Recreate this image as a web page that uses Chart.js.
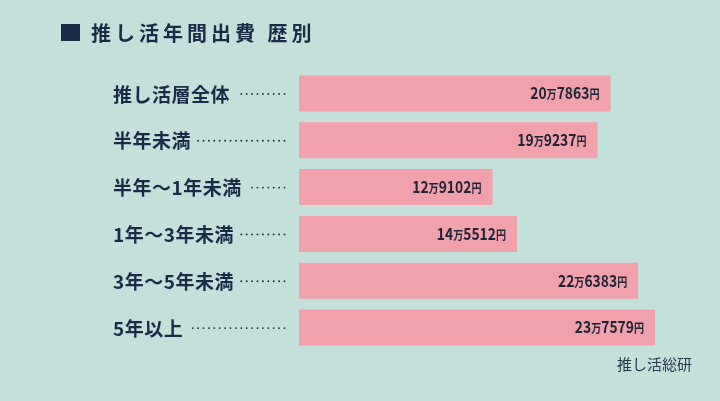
<!DOCTYPE html>
<html><head><meta charset="utf-8">
<script src="https://cdn.jsdelivr.net/npm/chart.js@4"></script>
<style>html,body{margin:0;padding:0;background:#c3e0db;}canvas{display:block;}</style>
</head><body>
<canvas id="c" width="720" height="401" style="width:720px;height:401px"></canvas>
<script>
const categories = ['推し活層全体','半年未満','半年～1年未満','1年～3年未満','3年～5年未満','5年以上'];
const spending = [207863, 199237, 129102, 145512, 226383, 237579];
const titleText = '推し活年間出費 歴別';
const sourceText = '推し活総研';

const NAVY = '#182c48';
const FONT = '"Noto Sans CJK JP", "Noto Sans", sans-serif';

const decor = {
  id: 'decor',
  afterDatasetsDraw(chart) {
    const ctx = chart.ctx;
    const y = chart.scales.y;
    const meta = chart.getDatasetMeta(0);
    ctx.save();
    // title
    ctx.fillStyle = NAVY;
    ctx.fillRect(61, 24, 19, 17);
    ctx.font = '700 20px ' + FONT;
    ctx.letterSpacing = '4px';
    ctx.textBaseline = 'middle';
    ctx.textAlign = 'left';
    ctx.fillText(titleText, 91, 33);
    // category labels + leader dots
    ctx.font = '700 19px ' + FONT;
    ctx.letterSpacing = '0.5px';
    categories.forEach((lab, i) => {
      const cy = y.getPixelForValue(i);
      ctx.fillStyle = NAVY;
      ctx.fillText(lab, 113, cy + 1);
      const w = ctx.measureText(lab).width;
      const start = 113 + w + 7;
      for (let x = 284.5; x >= start; x -= 5.4) {
        ctx.beginPath();
        ctx.arc(x, cy + 0.5, 0.95, 0, Math.PI * 2);
        ctx.fill();
      }
    });
    ctx.letterSpacing = '0px';
    // value labels (condensed)
    const SX = 0.84;
    ctx.textAlign = 'right';
    ctx.textBaseline = 'alphabetic';
    meta.data.forEach((bar, i) => {
      const v = spending[i];
      const man = Math.floor(v / 10000);
      const rest = String(v % 10000).padStart(4, '0');
      const base = bar.y + 5.8;
      ctx.save();
      ctx.translate(bar.x - 11, 0);
      ctx.scale(SX, 1);
      let x = 0;
      ctx.fillStyle = '#1c2535';
      const parts = [[String(man), '700 16.5px'], ['万', '700 12px'], [rest, '700 16.5px'], ['円', '700 12px']];
      for (let k = parts.length - 1; k >= 0; k--) {
        ctx.font = parts[k][1] + ' ' + FONT;
        ctx.fillText(parts[k][0], x, base);
        x -= ctx.measureText(parts[k][0]).width;
      }
      ctx.restore();
    });
    // source
    ctx.font = '400 15px ' + FONT;
    ctx.fillStyle = '#26374a';
    ctx.textAlign = 'right';
    ctx.textBaseline = 'middle';
    ctx.fillText(sourceText, 692, 364);
    ctx.restore();
  }
};

new Chart(document.getElementById('c'), {
  type: 'bar',
  data: {
    labels: categories,
    datasets: [{
      data: spending,
      backgroundColor: '#f1a1ab',
      borderWidth: 0,
      barPercentage: 0.77,
      categoryPercentage: 1
    }]
  },
  options: {
    indexAxis: 'y',
    responsive: false,
    animation: false,
    devicePixelRatio: 1,
    layout: { padding: { left: 299, right: 20, top: 70, bottom: 50 } },
    plugins: { legend: { display: false }, tooltip: { enabled: false }, title: { display: false } },
    scales: {
      x: { display: false, min: 0, max: 267600 },
      y: { display: false }
    }
  },
  plugins: [decor]
});
</script>
</body></html>
